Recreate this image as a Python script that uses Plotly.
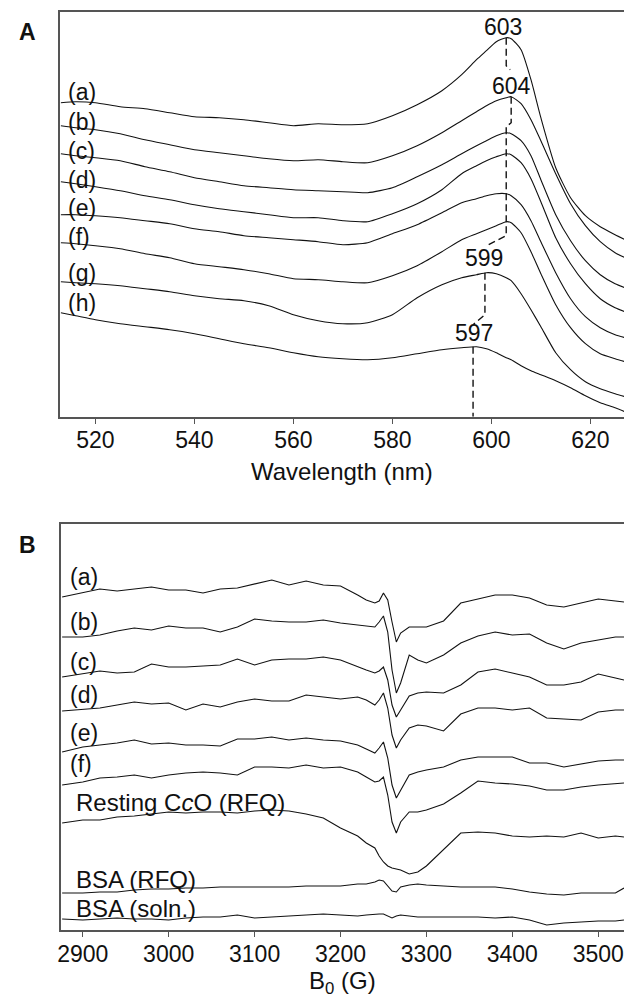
import plotly.graph_objects as go

# ---------------- Panel A: optical spectra (wavelength, nm) ----------------
wavelength = [513, 516, 520, 525, 530, 535, 540, 545, 550, 555, 560, 565, 570, 575, 580,
              585, 590, 594, 597, 599, 601, 603, 604, 606, 608, 610, 613, 616, 619, 622, 625, 627]

abs_a = [3.14, 3.15, 3.14, 3.10, 3.08, 3.04, 3.00, 2.99, 2.97, 2.94, 2.91, 2.93, 2.92, 2.93, 3.01,
         3.12, 3.26, 3.42, 3.57, 3.66, 3.75, 3.79, 3.78, 3.67, 3.37, 2.99, 2.49, 2.19, 2.01, 1.90, 1.82, 1.77]
abs_b = [2.91, 2.89, 2.87, 2.83, 2.77, 2.72, 2.67, 2.64, 2.61, 2.58, 2.56, 2.57, 2.55, 2.54, 2.61,
         2.71, 2.84, 2.96, 3.05, 3.11, 3.16, 3.19, 3.20, 3.13, 2.97, 2.76, 2.43, 2.13, 1.91, 1.75, 1.64, 1.59]
abs_c = [2.63, 2.61, 2.59, 2.56, 2.50, 2.45, 2.39, 2.35, 2.31, 2.29, 2.27, 2.26, 2.25, 2.24, 2.29,
         2.40, 2.52, 2.63, 2.71, 2.76, 2.81, 2.84, 2.83, 2.76, 2.61, 2.37, 2.02, 1.76, 1.56, 1.42, 1.33, 1.29]
abs_d = [2.35, 2.33, 2.30, 2.26, 2.21, 2.17, 2.12, 2.08, 2.05, 2.02, 1.99, 1.99, 1.96, 1.95, 2.03,
         2.13, 2.27, 2.43, 2.51, 2.56, 2.60, 2.63, 2.62, 2.54, 2.38, 2.15, 1.79, 1.53, 1.33, 1.18, 1.09, 1.05]
abs_e = [2.02, 2.02, 2.01, 1.99, 1.96, 1.93, 1.88, 1.85, 1.81, 1.79, 1.77, 1.75, 1.72, 1.74, 1.83,
         1.92, 2.04, 2.14, 2.18, 2.21, 2.23, 2.23, 2.21, 2.12, 1.96, 1.75, 1.44, 1.18, 1.00, 0.89, 0.82, 0.79]
abs_f = [1.74, 1.73, 1.71, 1.68, 1.63, 1.59, 1.53, 1.50, 1.47, 1.43, 1.38, 1.37, 1.35, 1.34, 1.41,
         1.51, 1.65, 1.77, 1.83, 1.87, 1.91, 1.95, 1.94, 1.84, 1.65, 1.43, 1.12, 0.89, 0.73, 0.63, 0.58, 0.55]
abs_g = [1.35, 1.34, 1.33, 1.31, 1.28, 1.25, 1.21, 1.18, 1.16, 1.11, 1.02, 0.96, 0.93, 0.94, 1.02,
         1.19, 1.32, 1.39, 1.42, 1.44, 1.43, 1.39, 1.36, 1.23, 1.07, 0.90, 0.64, 0.47, 0.35, 0.28, 0.23, 0.20]
abs_h = [1.04, 1.01, 0.97, 0.93, 0.90, 0.87, 0.83, 0.78, 0.73, 0.69, 0.64, 0.60, 0.58, 0.57, 0.59,
         0.63, 0.67, 0.69, 0.70, 0.68, 0.64, 0.59, 0.57, 0.51, 0.46, 0.42, 0.36, 0.29, 0.21, 0.14, 0.09, 0.05]

labels_A = ["(a)", "(b)", "(c)", "(d)", "(e)", "(f)", "(g)", "(h)"]
label_A_y = [3.25, 2.95, 2.66, 2.37, 2.09, 1.80, 1.44, 1.14]

# dashed peak-marker paths (wavelength, absorbance)
peak_path1_x = [603.0, 603.0, 603.8]
peak_path1_y = [3.79, 3.51, 3.47]
peak_path2_x = [604.0, 604.0, 603.0, 603.0, 599.4]
peak_path2_y = [3.20, 2.94, 2.90, 1.81, 1.72]
peak_path3_x = [598.7, 598.7, 596.3]
peak_path3_y = [1.44, 1.02, 0.92]
peak_path4_x = [596.3, 596.3]
peak_path4_y = [0.70, 0.0]

peak_labels = ["603", "604", "599", "597"]
peak_label_x = [602.4, 604.0, 598.6, 596.4]
peak_label_y = [3.90, 3.31, 1.59, 0.84]

wl_ticks = [520, 540, 560, 580, 600, 620]

# ---------------- Panel B: EPR spectra (field, G) ----------------
field = [2876, 2900, 2920, 2940, 2960, 2980, 3000, 3020, 3040, 3060, 3080, 3100, 3120, 3140,
         3160, 3180, 3200, 3220, 3230, 3240, 3245, 3250, 3255, 3260, 3265, 3270, 3280, 3290,
         3300, 3320, 3340, 3360, 3380, 3400, 3420, 3440, 3460, 3480, 3500, 3520, 3530]

epr_a = [33.3, 33.7, 34.1, 33.9, 34.1, 34.3, 34.0, 34.0, 33.7, 34.1, 34.2, 34.6, 35.0, 34.5,
         34.9, 34.5, 34.4, 33.5, 33.0, 32.7, 32.9, 33.7, 33.0, 30.8, 28.8, 29.7, 30.3, 30.3,
         30.3, 30.9, 32.7, 33.1, 33.5, 33.5, 33.2, 32.5, 32.3, 32.7, 33.1, 32.9, 32.8]
epr_b = [29.3, 29.3, 29.5, 29.9, 30.2, 30.0, 30.4, 30.2, 30.2, 29.8, 30.3, 31.1, 30.9, 30.8,
         30.8, 31.0, 30.7, 30.5, 30.4, 30.3, 30.8, 31.4, 29.8, 26.0, 23.7, 24.7, 27.5, 27.0,
         26.7, 27.5, 28.7, 29.4, 29.8, 29.5, 29.6, 28.7, 28.1, 28.7, 29.0, 29.3, 29.3]
epr_c = [25.3, 25.6, 25.9, 25.7, 25.8, 26.6, 26.3, 26.3, 26.4, 26.5, 27.1, 26.5, 27.0, 27.1,
         27.1, 27.3, 27.0, 26.3, 26.0, 25.7, 25.9, 26.3, 25.0, 22.5, 21.3, 22.0, 23.4, 23.7,
         23.8, 23.7, 24.5, 25.8, 26.1, 25.7, 25.3, 24.5, 24.5, 24.8, 25.6, 25.2, 25.0]
epr_d = [21.9, 22.1, 22.2, 22.5, 22.8, 22.6, 22.7, 22.0, 22.6, 22.3, 22.8, 23.1, 22.9, 22.9,
         23.5, 23.3, 23.1, 23.3, 23.0, 22.5, 23.0, 23.7, 22.2, 19.5, 18.2, 19.0, 20.2, 20.5,
         20.4, 19.9, 21.6, 22.2, 22.2, 22.0, 22.2, 21.2, 21.1, 21.0, 21.8, 22.0, 22.0]
epr_e = [17.8, 18.3, 18.5, 18.7, 19.0, 18.6, 18.7, 18.5, 18.5, 18.4, 19.1, 19.1, 19.3, 19.0,
         19.2, 19.0, 18.9, 18.5, 18.1, 17.7, 18.2, 18.8, 17.2, 14.5, 13.2, 14.0, 15.5, 15.8,
         16.0, 16.3, 17.0, 17.3, 17.3, 17.3, 16.7, 16.7, 16.3, 16.6, 16.9, 17.0, 17.0]
epr_f = [14.5, 14.8, 15.2, 15.3, 15.5, 15.2, 15.5, 15.7, 15.8, 15.7, 15.5, 16.3, 16.3, 16.2,
         16.5, 16.2, 16.3, 15.8, 15.3, 14.8, 14.9, 15.3, 13.5, 10.8, 9.7, 10.8, 11.8, 11.8,
         12.0, 12.6, 13.7, 14.9, 14.7, 14.6, 14.4, 14.0, 14.0, 14.3, 14.5, 14.6, 14.7]
epr_resting = [10.7, 11.0, 11.0, 11.3, 11.4, 11.6, 11.8, 11.7, 11.8, 11.8, 11.7, 11.9, 12.0, 11.9,
               11.6, 11.2, 10.2, 9.4, 8.7, 8.2, 7.4, 6.8, 6.4, 6.2, 6.1, 6.0, 5.6, 5.8,
               6.4, 8.0, 9.7, 9.8, 9.7, 9.4, 9.3, 9.4, 9.3, 9.7, 9.2, 9.4, 9.3]
epr_bsa_rfq = [3.7, 3.7, 3.8, 3.8, 4.0, 4.1, 4.1, 4.2, 4.2, 4.3, 4.3, 4.3, 4.3, 4.3,
               4.4, 4.4, 4.4, 4.6, 4.6, 4.8, 5.0, 4.9, 4.4, 3.9, 3.8, 4.3, 4.5, 4.6,
               4.5, 4.4, 4.3, 4.3, 4.3, 4.1, 3.8, 3.6, 3.5, 3.7, 3.7, 3.7, 4.2]
epr_bsa_soln = [1.1, 1.0, 1.1, 1.2, 1.1, 1.1, 1.0, 1.2, 1.3, 1.3, 1.5, 1.2, 1.3, 1.4,
                1.5, 1.6, 1.5, 1.4, 1.5, 1.6, 1.6, 1.6, 1.4, 1.2, 1.4, 1.5, 1.4, 1.3,
                1.3, 1.3, 1.3, 1.3, 1.2, 1.3, 1.0, 0.5, 0.7, 0.8, 0.9, 0.9, 1.0]

labels_B = ["(a)", "(b)", "(c)", "(d)", "(e)", "(f)"]
label_B_y = [35.3, 30.8, 26.8, 23.5, 19.7, 16.6]
labels_B2 = ["Resting C<i>c</i>O (RFQ)", "BSA (RFQ)", "BSA (soln.)"]
label_B2_y = [12.8, 5.1, 2.2]

field_ticks = [2900, 3000, 3100, 3200, 3300, 3400, 3500]

# ---------------- figure ----------------
FONT = "Liberation Sans, Arial, Helvetica, sans-serif"
AXC = "#555555"
TXT = "#111111"
fig = go.Figure()

for vals in [abs_a, abs_b, abs_c, abs_d, abs_e, abs_f, abs_g, abs_h]:
    fig.add_trace(go.Scatter(x=wavelength, y=vals, mode="lines", xaxis="x", yaxis="y",
                             line=dict(color=TXT, width=1.1, shape="spline", smoothing=0.6),
                             showlegend=False, hoverinfo="skip"))

for px_, py_ in [(peak_path1_x, peak_path1_y), (peak_path2_x, peak_path2_y),
                 (peak_path3_x, peak_path3_y), (peak_path4_x, peak_path4_y)]:
    fig.add_trace(go.Scatter(x=px_, y=py_, mode="lines", xaxis="x", yaxis="y",
                             line=dict(color=TXT, width=1.4, dash="7px,4px"),
                             showlegend=False, hoverinfo="skip"))

for vals in [epr_a, epr_b, epr_c, epr_d, epr_e, epr_f, epr_resting, epr_bsa_rfq, epr_bsa_soln]:
    fig.add_trace(go.Scatter(x=field, y=vals, mode="lines", xaxis="x2", yaxis="y2",
                             line=dict(color=TXT, width=1.1),
                             showlegend=False, hoverinfo="skip"))

ann = []
for t, y in zip(labels_A, label_A_y):
    ann.append(dict(x=514.0, y=y, xref="x", yref="y", text=t, showarrow=False,
                    xanchor="left", yanchor="middle", font=dict(size=23, family=FONT, color=TXT)))
for t, x, y in zip(peak_labels, peak_label_x, peak_label_y):
    ann.append(dict(x=x, y=y, xref="x", yref="y", text=t, showarrow=False,
                    xanchor="center", yanchor="middle", font=dict(size=23, family=FONT, color=TXT)))
for t, y in zip(labels_B, label_B_y):
    ann.append(dict(x=2883, y=y, xref="x2", yref="y2", text=t, showarrow=False,
                    xanchor="left", yanchor="middle", font=dict(size=23, family=FONT, color=TXT)))
for t, y in zip(labels_B2, label_B2_y):
    ann.append(dict(x=2890, y=y, xref="x2", yref="y2", text=t, showarrow=False,
                    xanchor="left", yanchor="middle", font=dict(size=24, family=FONT, color=TXT)))

ann.append(dict(x=340.3 / 624, y=(1001 - 471) / 1001, xref="paper", yref="paper",
                text="Wavelength (nm)", showarrow=False, xanchor="center", yanchor="middle",
                font=dict(size=24, family=FONT, color=TXT)))
ann.append(dict(x=340.3 / 624, y=(1001 - 983) / 1001, xref="paper", yref="paper",
                text="B<sub>0</sub> (G)", showarrow=False, xanchor="center", yanchor="middle",
                font=dict(size=24, family=FONT, color=TXT)))
ann.append(dict(x=23.5 / 624, y=(1001 - 32.5) / 1001, xref="paper", yref="paper",
                text="<b>A</b>", showarrow=False, xanchor="center", yanchor="middle",
                font=dict(size=23, family=FONT, color=TXT)))
ann.append(dict(x=23.5 / 624, y=(1001 - 545) / 1001, xref="paper", yref="paper",
                text="<b>B</b>", showarrow=False, xanchor="center", yanchor="middle",
                font=dict(size=23, family=FONT, color=TXT)))

xcommon = dict(showline=True, linecolor=AXC, linewidth=2, mirror=True, ticks="outside",
               ticklen=5, tickwidth=1, tickcolor=AXC, showgrid=False, zeroline=False,
               ticklabelstandoff=-3,
               tickfont=dict(size=23, family=FONT, color=TXT))
ycommon = dict(showline=True, linecolor=AXC, linewidth=2, showticklabels=False, ticks="",
               showgrid=False, zeroline=False)

fig.update_layout(
    width=624, height=1001, margin=dict(l=0, r=0, t=0, b=0),
    paper_bgcolor="white", plot_bgcolor="white",
    xaxis=dict(domain=[56.7 / 624, 1.0], range=[512.9, 626.8], tickvals=wl_ticks,
               anchor="y", **xcommon),
    yaxis=dict(domain=[(1001 - 416.7) / 1001, (1001 - 12) / 1001], range=[0.0, 4.047],
               anchor="x", **ycommon),
    xaxis2=dict(domain=[57.3 / 624, 1.0], range=[2874.6, 3530], tickvals=field_ticks,
                anchor="y2", **xcommon),
    yaxis2=dict(domain=[(1001 - 930) / 1001, (1001 - 524) / 1001], range=[0.0, 40.6],
                anchor="x2", **ycommon),
    annotations=ann,
)

fig.write_html("out.html")
